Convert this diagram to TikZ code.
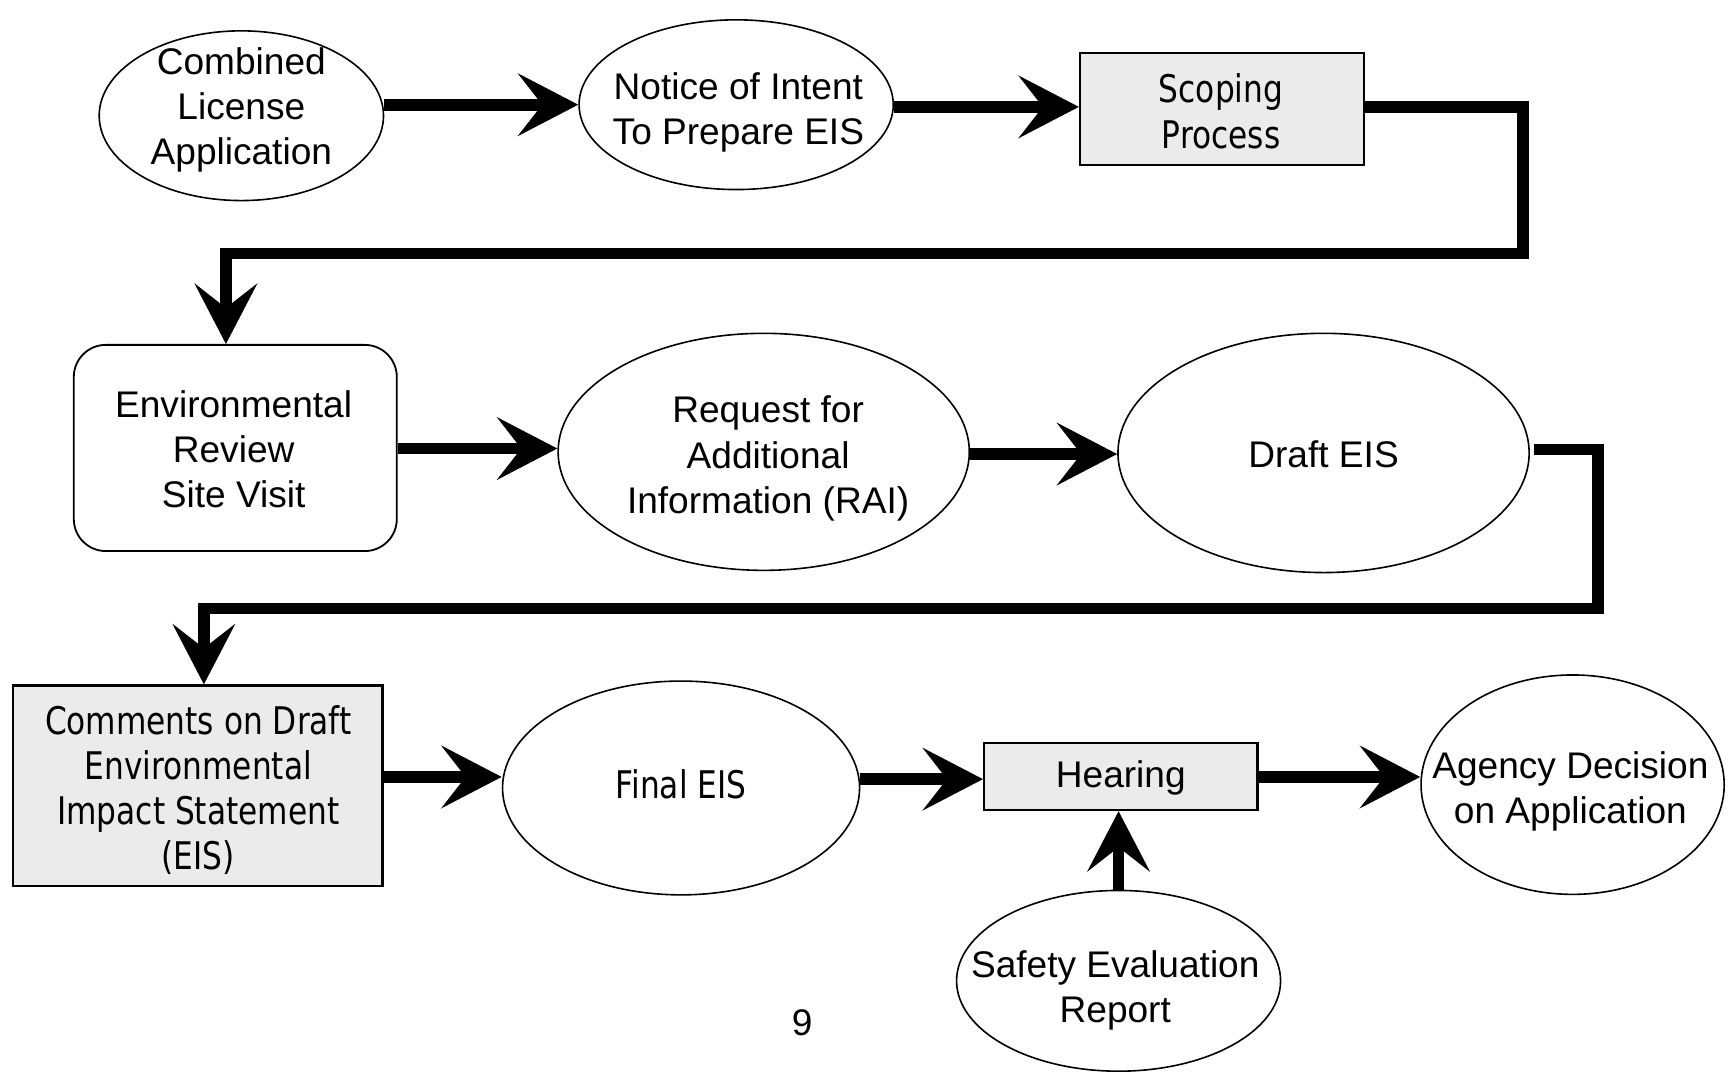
\documentclass[tikz,border=0pt]{standalone}
\usepackage{fontspec}
\setmainfont{Liberation Sans}
\newfontfamily\tah{DejaVu Sans}[FakeStretch=0.82]
\usetikzlibrary{shapes.geometric,arrows.meta}
\begin{document}
\begin{tikzpicture}[x=0.55pt,y=-0.55pt,
  ell/.style={draw, ellipse, line width=0.8pt, inner sep=0pt},
  sbox/.style={draw, rectangle, line width=1.1pt, inner sep=0pt, fill=black!8},
  rbox/.style={draw, rectangle, rounded corners=16pt, line width=0.9pt, inner sep=0pt},
  txt/.style={align=center, font=\fontsize{18.5}{22.5}\selectfont, inner sep=0pt},
  ttxt/.style={align=center, font=\fontsize{19}{22.5}\selectfont\tah, inner sep=0pt},
  arr/.style={line width=5.8pt, -{Stealth[length=30pt,width=31pt,inset=12pt]}, line join=miter},
]
\useasboundingbox (0,0) rectangle (1568,974);

% row 1
\node[ell, minimum width=141.9pt, minimum height=84.7pt] (comb) at (219,105) {};
\node[txt] (combT) at (219,100) {Combined\\License\\Application};
\node[ell, minimum width=156.8pt, minimum height=84.7pt] (noi) at (668,95) {};
\node[txt] (noiT) at (670,102) {Notice of Intent\\To Prepare EIS};
\node[sbox, minimum width=141.9pt, minimum height=56.1pt] (scop) at (1109,99) {};
\node[ttxt] (scopT) at (1108,101) {Scoping\\Process};

% row 2
\node[rbox, minimum width=161.2pt, minimum height=102.9pt] (env) at (213.5,406.5) {};
\node[txt] (envT) at (212,408) {Environmental\\Review\\Site Visit};
\node[ell, minimum width=205.2pt, minimum height=118.3pt] (rai) at (693,410) {};
\node[txt] (raiT) at (697,416) {Request for\\Additional\\Information (RAI)};
\node[ell, minimum width=205.2pt, minimum height=119.4pt] (draft) at (1201,411) {};
\node[txt] (draftT) at (1201,412) {Draft EIS};

% row 3
\node[sbox, minimum width=184.3pt, minimum height=100.1pt] (comm) at (179.5,713) {};
\node[ttxt] (commT) at (180,717) {Comments on Draft\\Environmental\\Impact Statement\\(EIS)};
\node[ell, minimum width=178.2pt, minimum height=106.7pt] (final) at (618,715) {};
\node[ttxt] (finalT) at (618,712) {Final EIS};
\node[sbox, minimum width=136.4pt, minimum height=33.6pt] (hear) at (1017,704.5) {};
\node[txt] (hearT) at (1017,706) {Hearing};
\node[ell, minimum width=151.3pt, minimum height=109.5pt] (agen) at (1427,712) {};
\node[txt] (agenT) at (1425,718) {Agency Decision\\on Application};
\node[ell, minimum width=161.7pt, minimum height=90.2pt] (ser) at (1015,890) {};
\node[txt] (serT) at (1012,899) {Safety Evaluation\\Report};

\node[txt] (pg) at (728,928) {9};

% connectors
\coordinate (k1) at (1382,230);
\coordinate (k2) at (205,230);
\coordinate (k3) at (1450,552);
\coordinate (k4) at (185,552);

\draw[arr] (comb.east |- noi.west) -- (noi.west);
\draw[arr] (noi.east |- 0,97) -- (scop.west |- 0,97);
\draw[arr] (scop.east |- 0,97) -| (k1) -- (k2) -- (k2 |- env.north);
\draw[arr] (env.east |- 0,407) -- (rai.west |- 0,407);
\draw[arr] (rai.east |- 0,412) -- (draft.west |- 0,412);
\draw[arr] ([xshift=2pt]draft.east |- 0,408) -| (k3) -- (k4) -- (k4 |- comm.north);
\draw[arr] (comm.east |- 0,705) -- (final.west |- 0,705);
\draw[arr] (final.east |- 0,707) -- (hear.west |- 0,707);
\draw[arr] (hear.east |- 0,705) -- (agen.west |- 0,705);
\draw[arr] (ser.north) -- (ser.north |- hear.south);
\end{tikzpicture}
\end{document}
